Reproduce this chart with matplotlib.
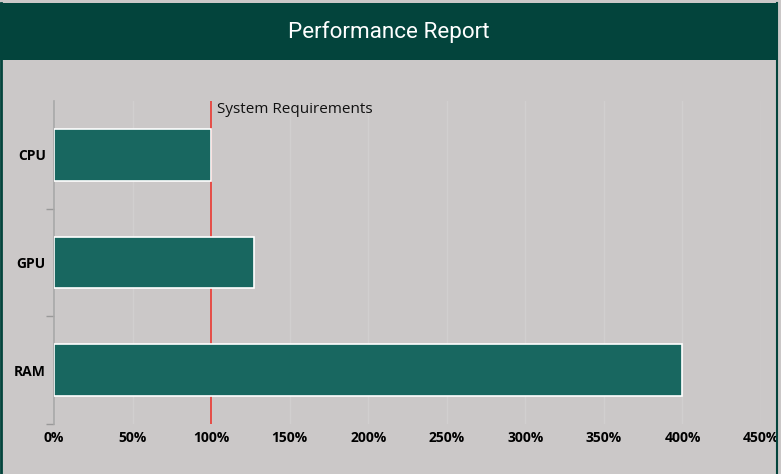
import matplotlib
matplotlib.use('Agg')
import matplotlib.pyplot as plt
from matplotlib.patches import Rectangle
from matplotlib.lines import Line2D

# data
categories = ['CPU', 'GPU', 'RAM']
values = [100, 127, 400]
requirement = 100
x_ticks = [0, 50, 100, 150, 200, 250, 300, 350, 400, 450]

BG = '#cbc8c8'
HEADER = '#03443c'
BAR = '#186760'

fig = plt.figure(figsize=(7.81, 4.74), dpi=100, facecolor=BG)
W, H = 781, 474

# header band
fig.patches.append(Rectangle((0, 1 - 60 / H), 777 / W, 57 / H, transform=fig.transFigure,
                             facecolor=HEADER, edgecolor='none', zorder=1))
fig.text(389 / W, 1 - 32 / H, 'Performance Report', color='white', fontsize=16.2,
         family='Roboto', ha='center', va='center')

ax = fig.add_axes([54 / W, 50 / H, 707 / W, 323 / H])
ax.set_facecolor(BG)

y = list(range(len(categories)))
ax.barh(y, values, height=0.48, color=BAR, edgecolor='white', linewidth=1.2, zorder=3)
ax.set_ylim(len(categories) - 0.5, -0.5)
ax.set_xlim(0, 450)

ax.axvline(requirement, color='#ec2a22', linewidth=1.1, zorder=2)
ax.text(requirement + 4, -0.5 + 0.08, 'System Requirements', fontsize=11,
        family='Open Sans', color='#111111', va='center', ha='left')

ax.set_xticks(x_ticks)
ax.set_xticklabels([f'{t}%' for t in x_ticks], fontsize=10, fontweight='bold', family='Open Sans')
ax.tick_params(axis='x', length=0, pad=5)
ax.set_yticks(y)
ax.set_yticklabels(categories, fontsize=10, fontweight='bold', family='Open Sans')
ax.tick_params(axis='y', length=0, pad=6)
ax.set_yticks([0.5, 1.5, 2.5], minor=True)
ax.tick_params(axis='y', which='minor', length=6, color='#999999', width=1)
ax.grid(axis='x', color='#d1cfcf', linewidth=1, zorder=0)

for s in ['top', 'right', 'bottom']:
    ax.spines[s].set_visible(False)
ax.spines['left'].set_color('#a8a8a8')
ax.spines['left'].set_linewidth(1.2)

# outer frame
fig.patches.append(Rectangle((777 / W, 0), 4 / W, 1, transform=fig.transFigure,
                             facecolor=BG, edgecolor='none', zorder=5))
fig.lines.append(Line2D([776.5 / W, 776.5 / W], [0, 1 - 3 / H], transform=fig.transFigure,
                        color=HEADER, linewidth=1.5, zorder=6))
fig.lines.append(Line2D([1 / W, 1 / W], [0, 1 - 3 / H], transform=fig.transFigure,
                        color=HEADER, linewidth=2, zorder=6))

fig.savefig('out.png', dpi=100, facecolor=BG)
